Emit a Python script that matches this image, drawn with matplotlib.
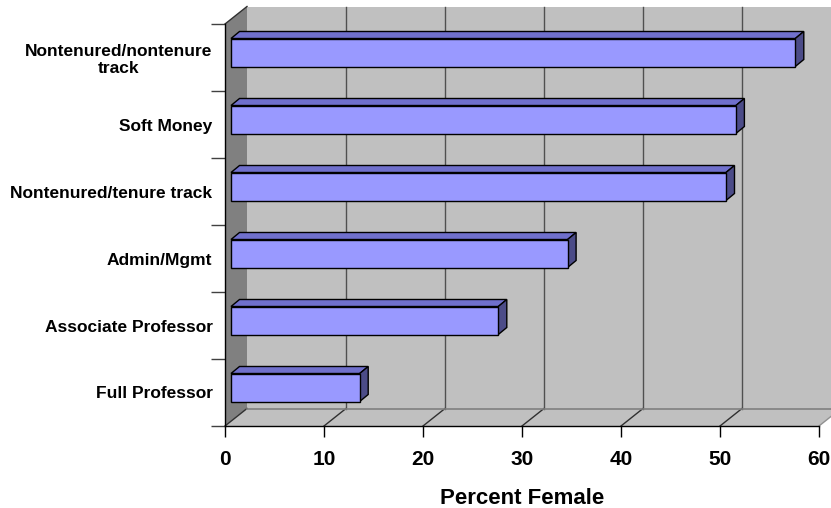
import matplotlib
matplotlib.use('Agg')
import matplotlib.pyplot as plt
from matplotlib.patches import Polygon

# ---- data ----
categories = ['Full Professor', 'Associate Professor', 'Admin/Mgmt',
              'Nontenured/tenure track', 'Soft Money', 'Nontenured/nontenure\ntrack']
values = [13, 27, 34, 50, 51, 57]
xticks = [0, 10, 20, 30, 40, 50, 60]
xlabel = 'Percent Female'

plt.rcParams['font.family'] = ['Liberation Sans', 'DejaVu Sans']
plt.rcParams['font.weight'] = 'bold'

W, H = 831, 508
fig = plt.figure(figsize=(W / 100, H / 100), dpi=100)
L, R, T, B = 225, 819, 24, 426
ax = fig.add_axes([L / W, 1 - B / H, (R - L) / W, (B - T) / H])
n = len(categories)
xmax = xticks[-1]
ax.set_xlim(0, xmax)
ax.set_ylim(0, n)
ax.set_facecolor('none')

sx = (R - L) / xmax
sy = (B - T) / n


def off(px, py):
    return px / sx, py / sy


fdx, fdy = off(22, 17.5)    # wall/floor depth
bfx, bfy = off(6, 5)        # bar front offset
bdx, bdy = off(8.5, 7)      # bar depth
hh = 14 / sy                # bar half height

kw = dict(clip_on=False)
# back wall
ax.add_patch(Polygon([(fdx, fdy), (xmax + fdx + 3, fdy), (xmax + fdx + 3, n + fdy), (fdx, n + fdy)],
                     closed=True, facecolor='#C0C0C0', edgecolor='none', zorder=0.1, **kw))
# left wall
ax.add_patch(Polygon([(0, 0), (fdx, fdy), (fdx, n + fdy), (0, n)],
                     closed=True, facecolor='#808080', edgecolor='none', zorder=0.2, **kw))
# floor
ax.add_patch(Polygon([(0, 0), (xmax, 0), (xmax + fdx, fdy), (fdx, fdy)],
                     closed=True, facecolor='#C0C0C0', edgecolor='none', zorder=0.2, **kw))
# back wall gridlines
for v in xticks[1:]:
    ax.plot([v + fdx, v + fdx], [fdy, n + fdy], color='#505050', lw=1.0, zorder=0.3, **kw)
# floor gridlines
for v in xticks:
    ax.plot([v, v + fdx], [0, fdy], color='#303030' if v < xmax else '#909090', lw=1.0, zorder=0.3, **kw)
ax.plot([fdx, xmax + fdx + 3], [fdy, fdy], color='#808080', lw=1.2, zorder=0.3, **kw)
ax.plot([0, fdx], [n, n + fdy], color='#303030', lw=1.0, zorder=0.3, **kw)

# bars
for i, v in enumerate(values):
    yc = i + 0.5 + bfy
    x0 = bfx
    x1 = v + bfx
    front = [(x0, yc - hh), (x1, yc - hh), (x1, yc + hh), (x0, yc + hh)]
    top = [(x0, yc + hh), (x1, yc + hh), (x1 + bdx, yc + hh + bdy), (x0 + bdx, yc + hh + bdy)]
    side = [(x1, yc - hh), (x1 + bdx, yc - hh + bdy), (x1 + bdx, yc + hh + bdy), (x1, yc + hh)]
    ax.add_patch(Polygon(top, closed=True, facecolor='#7070CC', edgecolor='black', lw=1.0, zorder=3, **kw))
    ax.add_patch(Polygon(side, closed=True, facecolor='#4C4C88', edgecolor='black', lw=1.0, zorder=3, **kw))
    ax.add_patch(Polygon(front, closed=True, facecolor='#9999FF', edgecolor='black', lw=1.0, zorder=3, **kw))

# axes
for s in ['top', 'right']:
    ax.spines[s].set_visible(False)
for s in ['left', 'bottom']:
    ax.spines[s].set_color('black')
    ax.spines[s].set_linewidth(1.0)
    ax.spines[s].set_zorder(4)

ax.set_xticks(xticks)
ax.set_xticklabels([str(t) for t in xticks], fontsize=15, fontweight='bold')
ax.tick_params(axis='x', which='major', direction='out', length=8, width=1, pad=9, color='black')

ax.set_yticks(range(n + 1))
ax.set_yticklabels([])
ax.set_yticks([i + 0.5 for i in range(n)], minor=True)
ax.set_yticklabels(categories, minor=True, fontsize=12.5, fontweight='bold', multialignment='center')
ax.tick_params(axis='y', which='major', direction='out', length=10, width=1, color='#404040')
ax.tick_params(axis='y', which='minor', length=0, pad=9)

ax.set_xlabel(xlabel, fontsize=16, fontweight='bold', labelpad=14)

fig.savefig('out.png', dpi=100)
